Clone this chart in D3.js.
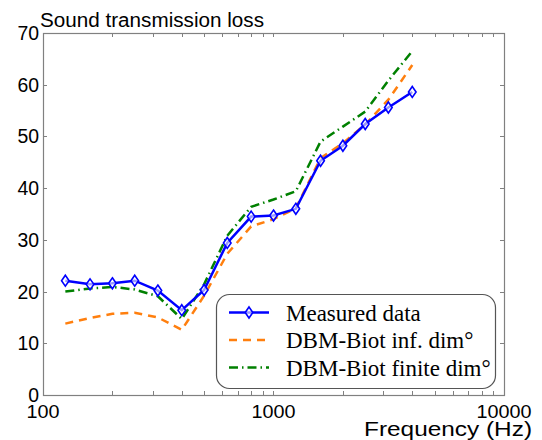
<!DOCTYPE html>
<html>
<head>
<meta charset="utf-8">
<script src="https://cdn.jsdelivr.net/npm/d3@7"></script>
<style>
  body { margin: 0; background: white; }
  text { font-family: "Liberation Sans", Arial, sans-serif; fill: #000; }
  .legend text { font-family: "Liberation Serif", "Times New Roman", serif; }
</style>
</head>
<body>
<div id="container"></div>
<script>
/* CONSTANTS AND GLOBALS */
const width = 542;
const height = 440;
const margin = { top: 33, right: 38, bottom: 45, left: 43 };

/* DATA */
const freqs = [125, 160, 200, 250, 315, 400, 500, 630, 800, 1000, 1250, 1600, 2000, 2500, 3150, 4000];
const measured = [22.1, 21.4, 21.6, 22.1, 20.2, 16.4, 20.3, 29.4, 34.5, 34.7, 36.0, 45.3, 48.2, 52.4, 55.6, 58.6];
const biotInf = [13.8, 14.9, 15.7, 15.9, 15.0, 12.6, 19.2, 27.3, 32.6, 34.0, 36.1, 45.8, 48.7, 52.3, 57.1, 63.8];
const biotFinite = [20.0, 20.6, 20.9, 20.4, 19.1, 14.7, 21.4, 30.8, 36.4, 37.8, 39.4, 49.0, 51.9, 54.8, 60.8, 66.5];
const xTicks = [100, 1000, 10000];
const yTicks = [0, 10, 20, 30, 40, 50, 60, 70];
const seriesNames = ["Measured data", "DBM-Biot inf. dim°", "DBM-Biot finite dim°"];

const svg = d3.select("#container")
  .append("svg")
  .attr("width", width)
  .attr("height", height)
  .style("background-color", "white");

/* SCALES */
const xScale = d3.scaleLog()
  .domain([100, 10000])
  .range([margin.left, width - margin.right]);

const yScale = d3.scaleLinear()
  .domain([0, 70])
  .range([height - margin.bottom, margin.top]);

const x0 = xScale.range()[0], x1 = xScale.range()[1];
const y0 = yScale.range()[0], y1 = yScale.range()[1];

/* AXES */
// minor + major ticks, pointing inward, on all four sides
const minorTicks = [];
[100, 1000].forEach(dec => { for (let k = 2; k <= 9; k++) minorTicks.push(dec * k); });
const allX = minorTicks.concat(xTicks.slice(1, -1));
const axisColor = "#808080";

const tickG = svg.append("g").attr("stroke", axisColor).attr("stroke-width", 1);
tickG.selectAll(".xb").data(allX).join("line")
  .attr("x1", d => Math.round(xScale(d)) + 0.5).attr("x2", d => Math.round(xScale(d)) + 0.5)
  .attr("y1", y0).attr("y2", y0 - 4);
tickG.selectAll(".xt").data(allX).join("line")
  .attr("x1", d => Math.round(xScale(d)) + 0.5).attr("x2", d => Math.round(xScale(d)) + 0.5)
  .attr("y1", y1).attr("y2", y1 + 4);
tickG.selectAll(".yl").data(yTicks.slice(1, -1)).join("line")
  .attr("x1", x0).attr("x2", x0 + 4)
  .attr("y1", d => Math.round(yScale(d)) + 0.5).attr("y2", d => Math.round(yScale(d)) + 0.5);
tickG.selectAll(".yr").data(yTicks.slice(1, -1)).join("line")
  .attr("x1", x1).attr("x2", x1 - 4)
  .attr("y1", d => Math.round(yScale(d)) + 0.5).attr("y2", d => Math.round(yScale(d)) + 0.5);

svg.append("rect")
  .attr("x", Math.round(x0) + 0.5).attr("y", Math.round(y1) + 0.5)
  .attr("width", Math.round(x1 - x0)).attr("height", Math.round(y0 - y1))
  .attr("fill", "none").attr("stroke", axisColor).attr("stroke-width", 1.2);

// tick labels
svg.selectAll(".ylab").data(yTicks).join("text")
  .attr("x", x0 - 4)
  .attr("y", d => yScale(d) + 7)
  .attr("text-anchor", "end")
  .attr("font-size", 19.5)
  .attr("textLength", d => String(d).length * 10.8)
  .attr("lengthAdjust", "spacingAndGlyphs")
  .text(d => d);

svg.selectAll(".xlab").data(xTicks).join("text")
  .attr("x", d => xScale(d))
  .attr("y", 418)
  .attr("text-anchor", "middle")
  .attr("font-size", 19)
  .attr("textLength", d => String(d).length * 11)
  .attr("lengthAdjust", "spacingAndGlyphs")
  .text(d => d);

svg.append("text")
  .attr("x", x0 - 3)
  .attr("y", 27)
  .attr("font-size", 20)
  .attr("textLength", 224)
  .attr("lengthAdjust", "spacingAndGlyphs")
  .text("Sound transmission loss");

svg.append("text")
  .attr("x", 532)
  .attr("y", 436)
  .attr("text-anchor", "end")
  .attr("font-size", 20)
  .attr("textLength", 168)
  .attr("lengthAdjust", "spacingAndGlyphs")
  .text("Frequency (Hz)");

/* LINES */
const line = d3.line()
  .x(d => xScale(d[0]))
  .y(d => yScale(d[1]));

const styles = [
  { color: "#0000ff", dash: null, width: 2.5 },
  { color: "#ff7f0e", dash: "8,6", width: 2.5 },
  { color: "#008000", dash: "9,4,1.5,4", width: 2.5 }
];

const series = [biotFinite, biotInf, measured];
const seriesStyle = [styles[2], styles[1], styles[0]];

series.forEach((vals, i) => {
  svg.append("path")
    .datum(freqs.map((f, j) => [f, vals[j]]))
    .attr("fill", "none")
    .attr("stroke", seriesStyle[i].color)
    .attr("stroke-width", seriesStyle[i].width)
    .attr("stroke-dasharray", seriesStyle[i].dash)
    .attr("d", line);
});

// thin diamond markers on measured data
const diamond = "M0,-5.5L3.8,0L0,5.5L-3.8,0Z";
svg.selectAll(".marker")
  .data(freqs.map((f, j) => [f, measured[j]]))
  .join("path")
  .attr("class", "marker")
  .attr("transform", d => `translate(${xScale(d[0])},${yScale(d[1])})`)
  .attr("d", diamond)
  .attr("fill", "#ffffff")
  .attr("fill-opacity", 0.6)
  .attr("stroke", "#0000ff")
  .attr("stroke-width", 1.6);

/* LEGEND */
const legend = svg.append("g").attr("class", "legend");
legend.append("rect")
  .attr("x", 216.5).attr("y", 294.5)
  .attr("width", 279).attr("height", 94)
  .attr("rx", 13).attr("ry", 13)
  .attr("fill", "white")
  .attr("stroke", "#555")
  .attr("stroke-width", 1.2);

const rowY = [312.5, 340, 367.5];
seriesNames.forEach((name, i) => {
  legend.append("line")
    .attr("x1", 229).attr("x2", 269)
    .attr("y1", rowY[i]).attr("y2", rowY[i])
    .attr("stroke", styles[i].color)
    .attr("stroke-width", styles[i].width)
    .attr("stroke-dasharray", styles[i].dash);
  if (i === 0) {
    legend.append("path")
      .attr("transform", `translate(249,${rowY[i]})`)
      .attr("d", diamond)
      .attr("fill", "#ffffff").attr("fill-opacity", 0.6)
      .attr("stroke", "#0000ff").attr("stroke-width", 1.6);
  }
  legend.append("text")
    .attr("x", 286)
    .attr("y", rowY[i] + 8)
    .attr("font-size", 23)
    .text(name);
});
</script>
</body>
</html>
